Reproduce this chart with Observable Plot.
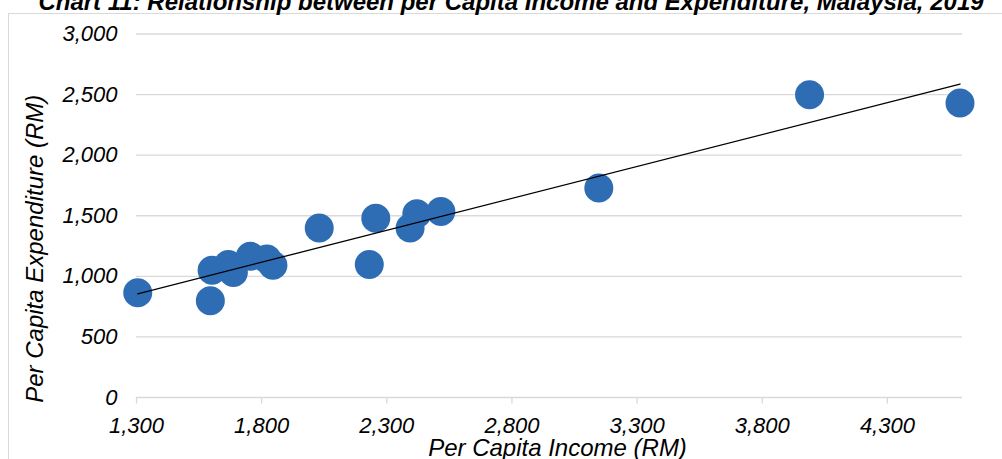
<!DOCTYPE html>
<html>
<head>
<meta charset="utf-8">
<script src="https://cdn.jsdelivr.net/npm/d3@7"></script>
<script src="https://cdn.jsdelivr.net/npm/@observablehq/plot@0.6"></script>
<style>
  html, body { margin: 0; padding: 0; background: #fff; }
  #wrap { position: relative; width: 1002px; height: 459px; overflow: hidden; font-family: "Liberation Sans", Arial, sans-serif; }
  #frame { position: absolute; left: 8px; top: 13px; width: 1200px; height: 600px; border: 1px solid #d9d9d9; box-sizing: border-box; }
  #chart { position: absolute; left: 0; top: 0; }
  #title { position: absolute; left: 20px; width: 982px; top: -10px; text-align: center; font-size: 24px; line-height: 24px; font-weight: bold; font-style: italic; color: #000; white-space: nowrap; }
  svg { overflow: visible; }
</style>
</head>
<body>
<div id="wrap">
  <div id="frame"></div>
  <div id="chart"></div>
  <div id="title">Chart 11: Relationship between per Capita Income and Expenditure, Malaysia, 2019</div>
</div>
<script>
// Data
const income      = [1305, 1595, 1602, 1667, 1687, 1755, 1821, 1845, 2030, 2230, 2256, 2393, 2420, 2516, 3147, 3989, 4590];
const expenditure = [ 865,  798, 1050, 1097, 1031, 1165, 1143, 1091, 1398, 1097, 1480, 1398, 1517, 1536, 1730, 2498, 2431];
const xTicks = [1300, 1800, 2300, 2800, 3300, 3800, 4300];
const yTicks = [0, 500, 1000, 1500, 2000, 2500, 3000];
const xTitle = "Per Capita Income (RM)";
const yTitle = "Per Capita Expenditure (RM)";

const data = income.map((x, i) => ({income: x, expenditure: expenditure[i]}));
const fmt = d3.format(",");

const chart = Plot.plot({
  width: 1002,
  height: 459,
  marginLeft: 136,
  marginRight: 40,
  marginTop: 33.5,
  marginBottom: 62,
  style: {fontFamily: "'Liberation Sans', Arial, sans-serif", background: "transparent", overflow: "visible", color: "#000"},
  x: {domain: [1300, 4600]},
  y: {domain: [0, 3000]},
  marks: [
    Plot.gridY(yTicks, {stroke: "#d9d9d9", strokeOpacity: 1, strokeWidth: 1.3}),
    Plot.axisY(yTicks, {tickSize: 0, tickPadding: 19, tickFormat: fmt, fontSize: 22, fontStyle: "italic", fill: "#000", label: null}),
    Plot.axisX(xTicks, {tickSize: 6.5, tickPadding: 13, tickFormat: fmt, fontSize: 22, fontStyle: "italic", stroke: "#d9d9d9", strokeWidth: 1.3, fill: "#000", label: null}),
    Plot.dot(data, {x: "income", y: "expenditure", r: 14.5, fill: "#2E6DB4"}),
    Plot.linearRegressionY(data, {x: "income", y: "expenditure", stroke: "#000", strokeWidth: 1.3, ci: 0}),
    Plot.text([xTitle], {text: d => d, frameAnchor: "bottom", lineAnchor: "middle", textAnchor: "middle", dx: 8, dy: 51, fontSize: 24, fontStyle: "italic", fill: "#000"}),
    Plot.text([yTitle], {text: d => d, frameAnchor: "left", lineAnchor: "middle", textAnchor: "middle", rotate: -90, dx: -101, dy: 33, fontSize: 24, fontStyle: "italic", fill: "#000"})
  ]
});
document.getElementById("chart").appendChild(chart);
</script>
</body>
</html>
